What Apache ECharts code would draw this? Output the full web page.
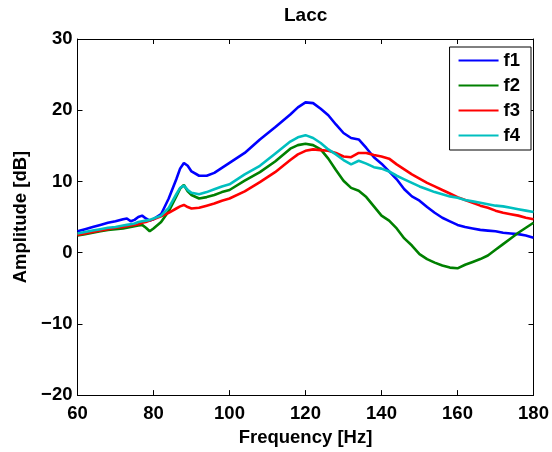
<!DOCTYPE html>
<html>
<head>
<meta charset="utf-8">
<script src="https://cdn.jsdelivr.net/npm/echarts@6/dist/echarts.min.js"></script>
<style>html,body{margin:0;padding:0;background:#fff;}#c{width:552px;height:452px;}</style>
</head>
<body>
<div id="c"></div>
<script>
const freq = [60,62,64,66,68,70,72,73,74,75,76,77,78,79,80,82,84,86,87,88,89,90,92,94,96,98,100,104,108,112,116,118,120,122,124,126,128,130,132,134,136,138,140,142,144,146,148,150,152,154,156,158,160,162,164,166,168,170,172,174,176,178,180];
const f1 = [3.0,3.3,3.6,3.9,4.2,4.4,4.7,4.8,4.4,4.6,5.0,5.2,4.8,4.5,4.7,5.4,7.6,10.3,11.8,12.6,12.2,11.4,10.8,10.8,11.2,11.9,12.6,14.0,15.9,17.6,19.4,20.4,21.1,21.0,20.2,19.3,18.0,16.8,16.1,15.9,14.7,13.4,12.5,11.4,10.3,8.9,7.9,7.3,6.4,5.6,4.9,4.4,3.9,3.6,3.4,3.2,3.1,3.0,2.8,2.7,2.6,2.4,2.1];
const f2 = [2.4,2.6,2.8,3.0,3.2,3.3,3.4,3.5,3.6,3.7,3.8,3.9,3.5,3.0,3.4,4.3,5.8,7.9,9.0,9.5,8.6,8.1,7.6,7.8,8.1,8.5,8.8,10.1,11.3,12.8,14.6,15.1,15.3,15.1,14.5,13.2,11.6,10.1,9.1,8.7,7.8,6.5,5.2,4.5,3.4,2.0,1.0,-0.2,-0.9,-1.4,-1.8,-2.1,-2.2,-1.7,-1.3,-0.9,-0.4,0.4,1.2,2.0,2.8,3.5,4.2];
const f3 = [2.5,2.7,2.9,3.1,3.3,3.5,3.6,3.7,3.8,3.9,4.0,4.2,4.3,4.5,4.7,5.1,5.6,6.2,6.5,6.7,6.4,6.2,6.3,6.6,6.9,7.3,7.6,8.6,9.9,11.3,13.0,13.8,14.3,14.5,14.4,14.3,14.0,13.5,13.4,14.0,14.0,13.7,13.5,13.2,12.4,11.7,11.0,10.4,9.8,9.3,8.8,8.3,7.8,7.4,7.0,6.6,6.3,5.9,5.6,5.4,5.2,4.9,4.7];
const f4 = [2.7,2.9,3.1,3.3,3.5,3.6,3.8,3.9,4.0,4.1,4.3,4.4,4.5,4.6,4.8,5.2,6.3,8.2,9.1,9.4,8.8,8.4,8.2,8.5,8.9,9.3,9.6,11.0,12.2,13.9,15.6,16.2,16.5,16.1,15.4,14.5,13.8,13.0,12.4,12.9,12.5,12.0,11.8,11.4,10.8,10.3,9.8,9.3,8.9,8.5,8.2,7.9,7.7,7.4,7.2,7.0,6.8,6.6,6.5,6.3,6.1,5.9,5.7];
const seriesNames = ['f1','f2','f3','f4'];
const seriesValues = [f1,f2,f3,f4];
const colors = ['#0000ff','#008000','#ff0000','#00bfbf'];

const FONT = 'Liberation Sans, Arial, Helvetica, sans-serif';
const FS = 18.5;
const chart = echarts.init(document.getElementById('c'), null, {renderer:'canvas'});
const axisCommon = {
  axisLine:{show:true, onZero:false, lineStyle:{color:'#000', width:1}},
  axisTick:{show:true, inside:true, length:5, lineStyle:{color:'#000', width:1}},
  splitLine:{show:false}
};
const fmt = v => String(v).replace('-', '\u2212');
chart.setOption({
  animation:false,
  backgroundColor:'#fff',
  title:{text:'Lacc', left:284, top:6.5, padding:0, textStyle:{fontFamily:FONT, fontWeight:'bold', fontSize:19, color:'#000'}},
  legend:{
    orient:'vertical', right:21, top:47,
    backgroundColor:'#fff', borderColor:'#000', borderWidth:1,
    padding:[4,11,5,9], itemWidth:40, itemHeight:2, itemGap:6, icon:'rect',
    textStyle:{fontFamily:FONT, fontWeight:'bold', fontSize:FS, color:'#000'},
    data:seriesNames
  },
  grid:{left:77.5, right:18.5, top:39, bottom:55, containLabel:false},
  xAxis:[
    Object.assign({type:'value', min:60, max:180, interval:20, position:'bottom',
      name:'Frequency [Hz]', nameLocation:'middle', nameGap:26,
      nameTextStyle:{fontFamily:FONT, fontWeight:'bold', fontSize:FS, color:'#000'},
      axisLabel:{fontFamily:FONT, fontWeight:'bold', fontSize:FS, color:'#000', margin:9, formatter:fmt}}, axisCommon),
    Object.assign({type:'value', min:60, max:180, interval:20, position:'top', axisLabel:{show:false}}, axisCommon)
  ],
  yAxis:[
    Object.assign({type:'value', min:-20, max:30, interval:10, position:'left',
      name:'Amplitude [dB]', nameLocation:'middle', nameGap:38.5,
      nameTextStyle:{fontFamily:FONT, fontWeight:'bold', fontSize:FS, color:'#000'},
      axisLabel:{fontFamily:FONT, fontWeight:'bold', fontSize:FS, color:'#000', margin:5, formatter:fmt}}, axisCommon),
    Object.assign({type:'value', min:-20, max:30, interval:10, position:'right', axisLabel:{show:false}}, axisCommon)
  ],
  series: seriesNames.map((n,i)=>({
    name:n, type:'line', xAxisIndex:0, yAxisIndex:0,
    showSymbol:false, symbol:'none', smooth:false,
    lineStyle:{color:colors[i], width:2.6}, itemStyle:{color:colors[i]},
    data: freq.map((f,k)=>[f, seriesValues[i][k]])
  }))
});
</script>
</body>
</html>
